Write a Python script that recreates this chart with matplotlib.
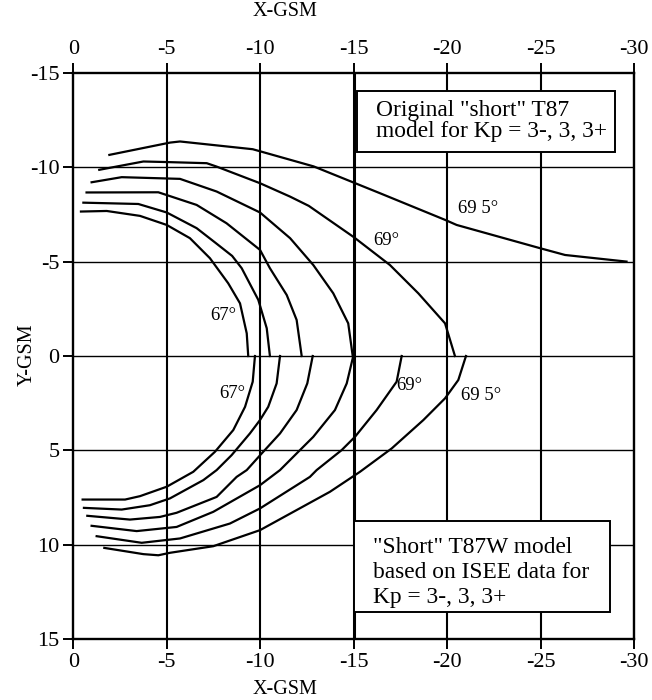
import matplotlib
matplotlib.use('Agg')
import matplotlib.pyplot as plt
from matplotlib.patches import Rectangle

plt.rcParams['font.family'] = 'Liberation Serif'
plt.rcParams['axes.unicode_minus'] = False

x_ticks = [0, -5, -10, -15, -20, -25, -30]
y_ticks = [-15, -10, -5, 0, 5, 10, 15]

# original "short" T87 contours (dawn side, Y < 0)
t87_x = [
    [-0.41, -1.79, -3.57, -5.0, -6.24, -7.31, -8.29, -8.92, -9.28, -9.36],
    [-0.54, -3.48, -5.0, -6.6, -7.6, -8.5, -9.01, -9.9, -10.35, -10.52],
    [-0.71, -4.55, -6.6, -8.2, -9.99, -10.52, -11.42, -11.95, -12.22],
    [-0.98, -2.59, -5.71, -7.67, -9.99, -11.6, -12.84, -13.91, -14.71, -14.95],
    [-1.39, -3.75, -5.0, -7.14, -7.67, -9.99, -11.6, -12.6, -15.0, -16.94,
     -18.46, -19.89, -20.42],
    [-1.93, -5.17, -5.71, -9.6, -12.86, -16.41, -19.89, -20.51, -24.97,
     -26.31, -29.6],
]
t87_y = [
    [-7.65, -7.68, -7.42, -6.94, -6.24, -5.18, -3.85, -2.79, -1.2, 0],
    [-8.12, -8.05, -7.6, -6.77, -6.0, -5.3, -4.65, -2.97, -1.47, 0],
    [-8.66, -8.67, -8.0, -7.03, -5.62, -4.65, -3.23, -1.91, 0],
    [-9.2, -9.47, -9.38, -8.71, -7.6, -6.24, -4.82, -3.32, -1.73, 0],
    [-9.86, -10.3, -10.27, -10.21, -10.03, -9.15, -8.44, -7.95, -6.3, -4.82,
     -3.32, -1.73, 0],
    [-10.65, -11.3, -11.36, -10.95, -10.04, -8.62, -7.21, -6.94, -5.71,
     -5.35, -5.0],
]

# "short" T87W contours from ISEE data (dusk side, Y > 0)
t87w_x = [
    [-0.5, -2.77, -3.57, -5.0, -6.42, -7.58, -8.56, -9.19, -9.6, -9.72],
    [-0.57, -2.59, -4.1, -5.17, -6.96, -7.67, -8.47, -9.45, -9.99, -10.43,
     -10.88, -11.06],
    [-0.75, -3.03, -4.64, -5.53, -7.67, -8.74, -9.28, -10.08, -11.06, -11.95,
     -12.52, -12.81],
    [-0.98, -3.39, -5.53, -7.49, -9.99, -11.06, -12.13, -12.84, -14.0,
     -14.63, -14.98],
    [-1.25, -3.66, -5.71, -8.38, -9.99, -12.66, -13.02, -14.36, -15.07,
     -16.23, -17.3, -17.57],
    [-1.66, -3.75, -4.55, -5.17, -7.49, -9.99, -13.73, -15.34, -17.04,
     -18.73, -19.89, -20.6, -21.01],
]
t87w_y = [
    [7.6, 7.6, 7.42, 6.92, 6.13, 5.07, 3.92, 2.69, 1.36, 0],
    [8.04, 8.13, 7.9, 7.54, 6.57, 6.04, 5.25, 4.1, 3.39, 2.69, 1.45, 0],
    [8.46, 8.66, 8.52, 8.3, 7.46, 6.4, 6.04, 5.16, 4.1, 2.86, 1.45, 0],
    [8.99, 9.27, 9.05, 8.25, 6.84, 6.04, 4.98, 4.28, 2.86, 1.45, 0],
    [9.54, 9.89, 9.66, 8.87, 8.07, 6.4, 6.04, 4.98, 4.28, 2.86, 1.36, 0],
    [10.16, 10.49, 10.55, 10.42, 10.07, 9.22, 7.19, 6.13, 4.89, 3.39, 2.24,
     1.27, 0],
]

# latitude labels on the curves
lat_text = ['67°', '69°', '69 5°', '67°', '69°', '69 5°']
lat_x = [-8.0, -16.77, -21.65, -8.53, -18.0, -21.8]
lat_y = [-2.17, -6.1, -7.82, 1.99, 1.54, 2.07]

top_box_text = 'Original "short" T87\nmodel for Kp = 3-, 3, 3+'
bottom_box_text = '"Short" T87W model\nbased on ISEE data for\nKp = 3-, 3, 3+'

fig = plt.figure(figsize=(6.52, 7.0), dpi=100)
ax = fig.add_axes([0.1124, 0.0867, 0.8600, 0.8094])

# grid
for xv in x_ticks[1:]:
    lw = 2.2 if xv in (-15, -30) else 1.5
    ax.axvline(xv, color='black', lw=lw, zorder=1)
for yv in y_ticks[1:-1]:
    ax.axhline(yv, color='black', lw=1.0, zorder=1)

for xs, ys in zip(t87_x, t87_y):
    ax.plot(xs, ys, color='black', lw=1.6, zorder=3)
for xs, ys in zip(t87w_x, t87w_y):
    ax.plot(xs, ys, color='black', lw=1.6, zorder=3)

for t, xv, yv in zip(lat_text, lat_x, lat_y):
    ax.text(xv, yv, t, fontsize=13.5, ha='center', va='center', zorder=4)

# model boxes (text anchored on the baseline of the last line)
ax.add_patch(Rectangle((-15.2, -14.04), -13.8, 3.24, facecolor='white',
                       edgecolor='black', lw=1.4, zorder=5))
ax.text(-16.2, -11.62, top_box_text, fontsize=16.8, ha='left',
        va='baseline', linespacing=0.95, zorder=6)

ax.add_patch(Rectangle((-15.04, 8.74), -13.66, 4.81, facecolor='white',
                       edgecolor='black', lw=1.4, zorder=5))
ax.text(-16.05, 13.07, bottom_box_text, fontsize=16.8, ha='left',
        va='baseline', linespacing=1.25, zorder=6)

ax.set_xlim(0, -30)
ax.set_ylim(15, -15)
ax.set_xticks(x_ticks)
ax.set_yticks(y_ticks)
ax.tick_params(direction='out', length=7, width=1.4, labelsize=16, pad=3,
               top=True, labeltop=True)
for side in ax.spines:
    ax.spines[side].set_linewidth(1.7)

fig.text(0.437, 0.983, 'X-GSM', fontsize=14.5, ha='center', va='center')
fig.text(0.437, 0.0143, 'X-GSM', fontsize=14.5, ha='center', va='center')
fig.text(27 / 652, 1 - 355 / 700, 'Y-GSM', fontsize=14.5, rotation=90,
         ha='center', va='center')

fig.savefig('out.png', dpi=100)
